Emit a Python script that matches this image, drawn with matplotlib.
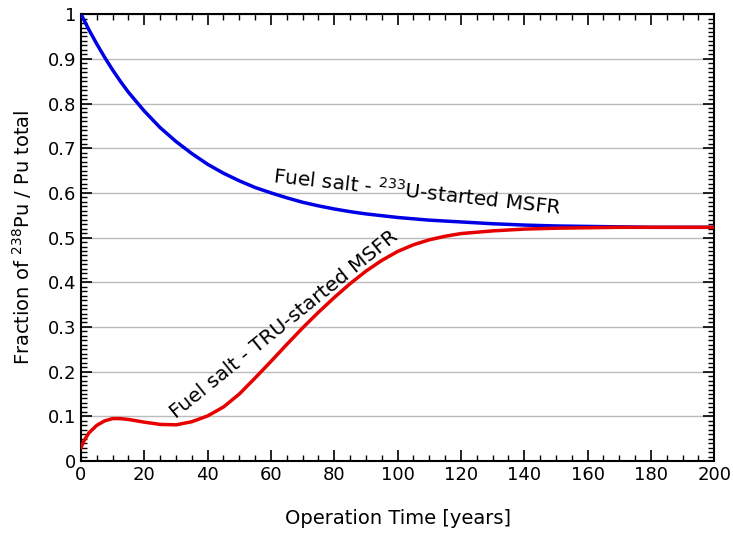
import matplotlib.pyplot as plt
from matplotlib.ticker import MultipleLocator

# Values
years = [0, 1, 2.5, 5, 7.5, 10, 12.5, 15, 20, 25, 30, 35, 40, 45, 50, 55, 60, 65, 70,
         75, 80, 85, 90, 95, 100, 105, 110, 115, 120, 130, 140, 150, 160, 170, 180, 190, 200]

u233_started = [1.000, 0.986, 0.965, 0.933, 0.903, 0.875, 0.849, 0.825, 0.783, 0.746, 0.715,
                0.688, 0.664, 0.644, 0.627, 0.612, 0.600, 0.589, 0.579, 0.571, 0.564,
                0.558, 0.553, 0.549, 0.545, 0.542, 0.539, 0.537, 0.535, 0.531, 0.528,
                0.526, 0.525, 0.524, 0.523, 0.523, 0.523]

tru_started = [0.030, 0.046, 0.063, 0.080, 0.090, 0.095, 0.095, 0.093, 0.087, 0.082, 0.081,
               0.088, 0.101, 0.121, 0.150, 0.186, 0.223, 0.261, 0.298, 0.333, 0.366,
               0.397, 0.425, 0.449, 0.469, 0.484, 0.495, 0.503, 0.509, 0.515, 0.519,
               0.521, 0.522, 0.523, 0.523, 0.523, 0.523]

fig = plt.figure(figsize=(7.33, 5.33), dpi=100)
ax = fig.add_axes([0.1105, 0.135, 0.864, 0.8385])

ax.plot(years, u233_started, color="#0000e6", lw=2.5, zorder=3)
ax.plot(years, tru_started, color="#e60000", lw=2.5, zorder=3)

ax.set_xlim(0, 200)
ax.set_ylim(0, 1)
ax.xaxis.set_major_locator(MultipleLocator(20))
ax.xaxis.set_minor_locator(MultipleLocator(5))
ax.yaxis.set_minor_locator(MultipleLocator(0.01))
ax.set_yticks([i / 10 for i in range(11)])
ax.set_yticklabels(["0", "0.1", "0.2", "0.3", "0.4", "0.5", "0.6", "0.7", "0.8", "0.9", "1"])

ax.tick_params(which="both", direction="in", top=True, right=True, labelsize=13)
ax.tick_params(which="major", length=8, width=1.2)
ax.tick_params(which="minor", length=4, width=1)
for s in ax.spines.values():
    s.set_linewidth(1.5)

ax.grid(axis="y", which="major", color="#bbbbbb", lw=1)

ax.set_xlabel("Operation Time [years]", fontsize=14, labelpad=18)
ax.set_ylabel("Fraction of $^{238}$Pu / Pu total", fontsize=14, labelpad=10)

ax.text(60.5, 0.622, "Fuel salt - $^{233}$U-started MSFR", fontsize=14.5,
        rotation=-6.3, rotation_mode="anchor", ha="left", va="baseline")
ax.text(30, 0.093, "Fuel salt - TRU-started MSFR", fontsize=14.5,
        rotation=39, rotation_mode="anchor", ha="left", va="baseline")

fig.savefig("out.png", dpi=100)
